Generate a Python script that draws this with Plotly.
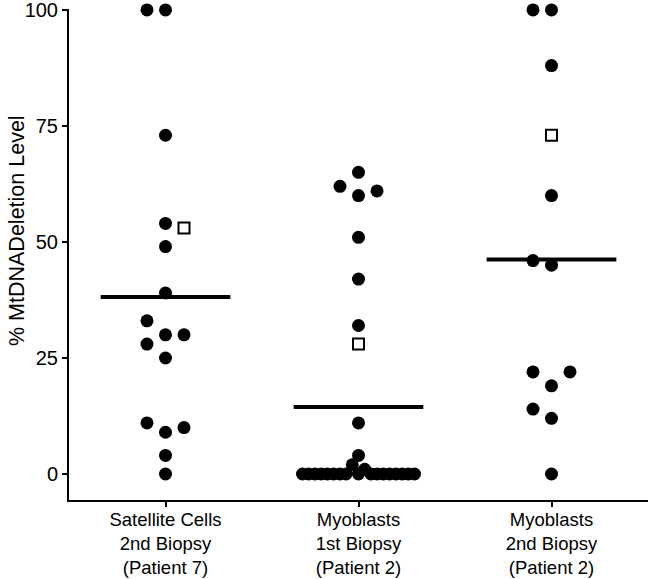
import plotly.graph_objects as go

# ---- data ----
categories = ["Satellite Cells<br>2nd Biopsy<br>(Patient 7)",
              "Myoblasts<br>1st Biopsy<br>(Patient 2)",
              "Myoblasts<br>2nd Biopsy<br>(Patient 2)"]

sat_cells_2nd_p7 = [100, 100, 73, 54, 49, 39, 33, 30, 30, 28, 25, 11, 10, 9, 4, 0]
myoblasts_1st_p2 = [65, 62, 61, 60, 51, 42, 32, 11, 4, 2, 1,
                    0, 0, 0, 0, 0, 0, 0, 0, 0, 0, 0, 0, 0, 0, 0, 0, 0]
myoblasts_2nd_p2 = [100, 100, 88, 60, 46, 45, 22, 22, 19, 14, 12, 0]

# open squares (separately marked samples)
square_values = [53, 28, 73]

y_ticks = [0, 25, 50, 75, 100]
y_title = "% MtDNADeletion Level"

groups = [sat_cells_2nd_p7, myoblasts_1st_p2, myoblasts_2nd_p2]

# ---- layout constants ----
W, H = 651, 579
ML, MR, MT, MB = 69, 3, 9, 79
Y_RANGE = [-5.6, 100.2]
X_RANGE = [-0.5, 2.5]
plot_w = W - ML - MR
plot_h = H - MT - MB
px_per_x = plot_w / (X_RANGE[1] - X_RANGE[0])
px_per_y = plot_h / (Y_RANGE[1] - Y_RANGE[0])

DOT = 13          # marker diameter (px)
STEP = 18.5 / px_per_x   # swarm column spacing in x units
MAX_HALF = 56 / px_per_x # max half-width of a swarm row
CLUSTER = 3.5     # value band for points sharing a swarm row
MEAN_HALF = 0.336


def swarm(vals):
    n = len(vals)
    order = sorted(range(n), key=lambda i: vals[i])
    clusters = []
    for i in order:
        if clusters and vals[i] - vals[clusters[-1][0]] <= CLUSTER:
            clusters[-1].append(i)
        else:
            clusters.append([i])
    offs = [0.0] * n
    for c in clusters:
        seq = [c[0]] + sorted(c[1:], key=lambda i: -vals[i])
        slots = []
        for k in range(len(seq)):
            slots.append(0 if k == 0 else (-((k + 1) // 2) if k % 2 else k // 2))
        m = max(abs(s) for s in slots)
        sp = STEP if m * STEP <= MAX_HALF else MAX_HALF / m
        for i, s in zip(seq, slots):
            offs[i] = s * sp
    return offs


fig = go.Figure()

for gi, vals in enumerate(groups):
    allv = vals + [square_values[gi]]
    mean = sum(allv) / len(allv)
    fig.add_trace(go.Scatter(
        x=[gi - MEAN_HALF, gi + MEAN_HALF], y=[mean, mean], mode="lines",
        line=dict(color="black", width=4), hoverinfo="skip", showlegend=False))

    offs = swarm(vals)
    fig.add_trace(go.Scatter(
        x=[gi + o for o in offs], y=vals, mode="markers",
        marker=dict(symbol="circle", size=DOT, color="black", line=dict(width=0)),
        cliponaxis=False, showlegend=False))

    sq = square_values[gi]
    collide = any(abs(o) < 1e-9 and abs(v - sq) * px_per_y < DOT
                  for v, o in zip(vals, offs))
    sx = gi + (STEP if collide else 0)
    fig.add_trace(go.Scatter(
        x=[sx], y=[sq], mode="markers",
        marker=dict(symbol="square", size=11, color="white",
                    line=dict(color="black", width=2)),
        cliponaxis=False, showlegend=False))

fig.update_layout(
    width=W, height=H,
    margin=dict(l=ML, r=MR, t=MT, b=MB, autoexpand=False),
    plot_bgcolor="white", paper_bgcolor="white",
    font=dict(family="Arial, Liberation Sans, sans-serif", size=20, color="black"),
    showlegend=False,
)
fig.update_xaxes(
    range=X_RANGE, tickmode="array", tickvals=[0, 1, 2], ticktext=categories,
    showgrid=False, zeroline=False, showline=True, linecolor="black", linewidth=2,
    ticks="outside", ticklen=5, tickwidth=2, tickcolor="black",
    tickfont=dict(size=18.5), automargin=False, ticklabeloverflow="allow",
    ticklabelstandoff=-3,
)
fig.update_yaxes(
    range=Y_RANGE, tickmode="array", tickvals=y_ticks,
    showgrid=False, zeroline=False, showline=True, linecolor="black", linewidth=2,
    ticks="outside", ticklen=5, tickwidth=2, tickcolor="black",
    tickfont=dict(size=20), automargin=False, ticklabeloverflow="allow",
)
fig.add_annotation(
    text=y_title, xref="paper", yref="paper",
    x=(17 - ML) / plot_w, y=(MT + plot_h - 231) / plot_h,
    xanchor="center", yanchor="middle", textangle=-90, showarrow=False,
    font=dict(size=21.5, color="black"),
)

# remove the browser's default page margin so the figure fills the window
fig.write_html("out.html", config={"displayModeBar": False},
               post_script="document.body.style.margin='0';")
